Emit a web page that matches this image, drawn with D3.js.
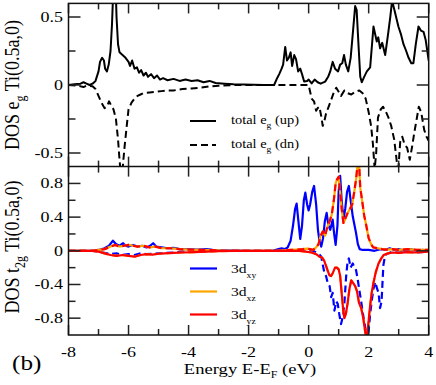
<!DOCTYPE html>
<html><head><meta charset="utf-8">
<script src="https://cdn.jsdelivr.net/npm/d3@7"></script>
<style>body{margin:0;background:#fff}svg{display:block}
svg text{font-family:"Liberation Serif","Times New Roman",Times,serif;}</style>
</head><body>
<script>
// ---------- data ----------
const xTicksMajor = [-8,-6,-4,-2,0,2,4];
const xTicksMinor = [-7,-5,-3,-1,1,3];
const yTopMajor = [-0.5,0,0.5];
const yTopMinor = [-0.25,0.25];
const yBotMajor = [-0.8,-0.4,0,0.4,0.8];
const yBotMinor = [-0.6,-0.2,0.2,0.6];

const egUp = [[-8,0],[-7.8,0.005],[-7.6,0.01],[-7.5,0.02],[-7.4,0.01],[-7.3,0],[-7.2,0.01],[-7.1,0.03],[-7.0,0.1],[-6.95,0.17],[-6.88,0.2],[-6.82,0.18],[-6.78,0.12],[-6.72,0.1],[-6.66,0.15],[-6.6,0.25],[-6.55,0.45],[-6.5,0.75],[-6.47,0.62],[-6.44,0.8],[-6.4,0.5],[-6.35,0.3],[-6.3,0.24],[-6.2,0.22],[-6.1,0.2],[-6.0,0.17],[-5.95,0.14],[-5.88,0.18],[-5.8,0.12],[-5.72,0.13],[-5.65,0.09],[-5.58,0.11],[-5.5,0.07],[-5.42,0.09],[-5.35,0.06],[-5.25,0.08],[-5.15,0.05],[-5.05,0.07],[-4.95,0.04],[-4.85,0.05],[-4.7,0.035],[-4.5,0.045],[-4.3,0.03],[-4.1,0.04],[-3.9,0.03],[-3.7,0.035],[-3.5,0.02],[-3.3,0.03],[-3.1,0.015],[-2.8,0.01],[-2.5,0.005],[-1.5,0],[-1.15,0],[-1.05,0.05],[-0.98,0.08],[-0.9,0.12],[-0.85,0.15],[-0.78,0.28],[-0.72,0.18],[-0.66,0.2],[-0.6,0.24],[-0.55,0.14],[-0.48,0.22],[-0.42,0.19],[-0.35,0.1],[-0.28,0.12],[-0.22,0.08],[-0.15,0.025],[-0.05,0.03],[0,0.04],[0.1,0.012],[0.2,0.04],[0.3,0.02],[0.4,0.01],[0.55,0.025],[0.65,0.06],[0.72,0.1],[0.8,0.17],[0.88,0.12],[0.98,0.1],[1.05,0.15],[1.12,0.16],[1.18,0.22],[1.24,0.15],[1.32,0.1],[1.4,0.2],[1.48,0.4],[1.55,0.58],[1.6,0.55],[1.66,0.3],[1.72,0.06],[1.77,0.02],[1.85,0.06],[1.94,0.1],[2.05,0.13],[2.16,0.43],[2.27,0.32],[2.32,0.35],[2.38,0.27],[2.45,0.31],[2.55,0.22],[2.65,0.38],[2.72,0.5],[2.78,0.62],[2.86,0.55],[2.99,0.43],[3.08,0.37],[3.16,0.3],[3.25,0.25],[3.33,0.2],[3.42,0.16],[3.49,0.16],[3.57,0.3],[3.66,0.43],[3.74,0.4],[3.83,0.39],[3.9,0.33],[4.0,0.18]];

const egDn = [[-8,0],[-7.7,-0.005],[-7.5,-0.015],[-7.4,-0.005],[-7.2,-0.01],[-7.1,-0.03],[-7.0,-0.08],[-6.9,-0.13],[-6.8,-0.17],[-6.72,-0.16],[-6.65,-0.12],[-6.58,-0.15],[-6.5,-0.18],[-6.42,-0.25],[-6.35,-0.4],[-6.3,-0.55],[-6.25,-0.68],[-6.2,-0.62],[-6.13,-0.45],[-6.05,-0.28],[-6.0,-0.18],[-5.9,-0.13],[-5.8,-0.1],[-5.7,-0.08],[-5.6,-0.07],[-5.5,-0.06],[-5.3,-0.055],[-5.1,-0.05],[-4.9,-0.045],[-4.7,-0.04],[-4.5,-0.04],[-4.2,-0.03],[-3.9,-0.025],[-3.6,-0.02],[-3.3,-0.01],[-3.0,-0.005],[-2.5,0],[0,0],[0.05,-0.05],[0.1,-0.1],[0.18,-0.12],[0.25,-0.19],[0.3,-0.17],[0.36,-0.16],[0.42,-0.23],[0.47,-0.3],[0.52,-0.27],[0.58,-0.21],[0.65,-0.17],[0.75,-0.11],[0.83,-0.06],[0.92,-0.02],[1.0,-0.05],[1.08,-0.08],[1.19,-0.04],[1.3,-0.06],[1.42,-0.07],[1.55,-0.05],[1.69,-0.04],[1.8,-0.06],[1.9,-0.1],[2.0,-0.2],[2.08,-0.3],[2.14,-0.43],[2.2,-0.62],[2.25,-0.5],[2.31,-0.24],[2.4,-0.18],[2.48,-0.16],[2.58,-0.2],[2.66,-0.24],[2.75,-0.3],[2.85,-0.4],[2.93,-0.55],[2.98,-0.65],[3.05,-0.42],[3.12,-0.38],[3.2,-0.44],[3.28,-0.46],[3.37,-0.55],[3.45,-0.45],[3.52,-0.35],[3.6,-0.25],[3.67,-0.16],[3.75,-0.2],[3.85,-0.33],[3.93,-0.38],[4.0,-0.41]];

const xyUp = [[-8,0],[-7.2,0],[-7.0,0.01],[-6.8,0.03],[-6.65,0.06],[-6.52,0.12],[-6.42,0.08],[-6.3,0.06],[-6.18,0.09],[-6.1,0.06],[-6.0,0.05],[-5.85,0.07],[-5.7,0.05],[-5.55,0.06],[-5.4,0.04],[-5.28,0.06],[-5.18,0.09],[-5.08,0.05],[-4.9,0.04],[-4.7,0.03],[-4.5,0.035],[-4.3,0.02],[-4.0,0.02],[-3.7,0.015],[-3.4,0.02],[-3.2,0.01],[-3.0,0.005],[-2.0,0],[-1.2,0],[-1.0,0.02],[-0.9,0.03],[-0.8,0.02],[-0.7,0.04],[-0.6,0.12],[-0.52,0.3],[-0.45,0.5],[-0.4,0.56],[-0.34,0.35],[-0.28,0.14],[-0.22,0.3],[-0.16,0.6],[-0.11,0.69],[-0.05,0.55],[0,0.48],[0.05,0.55],[0.12,0.7],[0.18,0.77],[0.25,0.55],[0.31,0.25],[0.36,0.12],[0.42,0.05],[0.48,0.15],[0.54,0.35],[0.6,0.45],[0.66,0.3],[0.72,0.25],[0.8,0.37],[0.85,0.2],[0.9,0.07],[0.96,0.3],[1.0,0.7],[1.05,0.89],[1.1,0.6],[1.16,0.37],[1.22,0.5],[1.28,0.7],[1.34,0.77],[1.4,0.6],[1.47,0.41],[1.53,0.3],[1.58,0.21],[1.64,0.08],[1.7,0.02],[1.8,0.01],[2.0,0.01],[2.2,0],[2.4,0.02],[2.55,0.01],[2.7,0.03],[2.85,0.01],[3.0,0.02],[3.2,0],[3.4,0.02],[3.6,0],[3.8,0.01],[4.0,0]];

const xzUp = [[-8,0],[-7.2,0],[-7.0,0.01],[-6.8,0.02],[-6.6,0.05],[-6.45,0.07],[-6.3,0.05],[-6.15,0.06],[-6.0,0.07],[-5.85,0.06],[-5.7,0.05],[-5.5,0.06],[-5.3,0.04],[-5.1,0.05],[-4.9,0.03],[-4.6,0.03],[-4.3,0.02],[-4.0,0.015],[-3.6,0.01],[-3.2,0.008],[-2.8,0],[-1.0,0],[-0.8,0.005],[-0.6,0.01],[-0.4,0.015],[-0.2,0.02],[-0.05,0.025],[0.05,0.02],[0.15,0.01],[0.25,0.04],[0.33,0.08],[0.4,0.18],[0.47,0.23],[0.55,0.18],[0.62,0.28],[0.7,0.35],[0.77,0.43],[0.84,0.6],[0.9,0.8],[0.95,0.85],[1.0,0.88],[1.05,0.7],[1.1,0.5],[1.16,0.33],[1.22,0.38],[1.3,0.45],[1.38,0.5],[1.45,0.55],[1.52,0.7],[1.58,0.85],[1.63,1.02],[1.68,1.05],[1.72,0.75],[1.78,0.6],[1.85,0.42],[1.92,0.3],[2.0,0.15],[2.08,0.08],[2.15,0.04],[2.3,0.03],[2.45,0.02],[2.6,0.015],[2.8,0.02],[3.0,0.01],[3.3,0.02],[3.6,0.01],[4.0,0.01]];
const yzUp = xzUp.map(d => d.slice());

const xyDn = [[-8,0],[-7.2,0],[-7.0,-0.01],[-6.8,-0.025],[-6.6,-0.04],[-6.4,-0.03],[-6.2,-0.05],[-6.0,-0.04],[-5.8,-0.05],[-5.6,-0.03],[-5.4,-0.04],[-5.2,-0.035],[-5.0,-0.03],[-4.8,-0.025],[-4.5,-0.02],[-4.2,-0.01],[-3.8,-0.01],[-3.4,-0.005],[-3.0,0],[0.15,0],[0.25,-0.02],[0.35,-0.04],[0.42,-0.07],[0.48,-0.18],[0.53,-0.27],[0.58,-0.3],[0.64,-0.39],[0.7,-0.42],[0.75,-0.55],[0.8,-0.5],[0.86,-0.71],[0.92,-0.6],[0.97,-0.63],[1.02,-0.75],[1.08,-0.87],[1.14,-0.78],[1.19,-0.63],[1.25,-0.3],[1.3,-0.12],[1.34,-0.09],[1.4,-0.2],[1.47,-0.15],[1.53,-0.2],[1.58,-0.23],[1.64,-0.35],[1.69,-0.47],[1.75,-0.6],[1.81,-0.75],[1.88,-0.9],[1.95,-1.05],[2.0,-0.95],[2.05,-0.75],[2.1,-0.6],[2.16,-0.45],[2.22,-0.37],[2.28,-0.45],[2.33,-0.5],[2.38,-0.68],[2.43,-0.6],[2.49,-0.17],[2.55,-0.05],[2.65,-0.03],[2.8,-0.01],[3.0,-0.02],[3.3,-0.01],[3.6,-0.02],[4.0,-0.01]];

const xzDn = [[-8,0],[-7.2,0],[-7.0,-0.01],[-6.8,-0.03],[-6.6,-0.05],[-6.4,-0.06],[-6.2,-0.05],[-6.0,-0.06],[-5.8,-0.07],[-5.6,-0.05],[-5.4,-0.04],[-5.2,-0.045],[-5.0,-0.035],[-4.8,-0.03],[-4.5,-0.025],[-4.2,-0.02],[-3.8,-0.015],[-3.4,-0.01],[-3.0,-0.005],[-2.5,0],[-0.3,0],[-0.1,-0.01],[0.1,-0.02],[0.25,-0.04],[0.36,-0.07],[0.45,-0.08],[0.52,-0.12],[0.58,-0.18],[0.64,-0.24],[0.69,-0.29],[0.75,-0.3],[0.81,-0.26],[0.88,-0.2],[0.94,-0.2],[1.0,-0.22],[1.05,-0.3],[1.1,-0.5],[1.15,-0.7],[1.19,-0.8],[1.24,-0.75],[1.3,-0.62],[1.36,-0.45],[1.42,-0.35],[1.48,-0.38],[1.55,-0.42],[1.61,-0.48],[1.68,-0.62],[1.75,-0.68],[1.82,-0.8],[1.88,-0.95],[1.93,-1.05],[1.98,-0.9],[2.04,-0.68],[2.1,-0.5],[2.16,-0.38],[2.24,-0.25],[2.33,-0.15],[2.42,-0.09],[2.5,-0.05],[2.65,-0.03],[2.8,-0.02],[3.0,-0.025],[3.3,-0.015],[3.6,-0.02],[4.0,-0.01]];
const yzDn = xzDn.map(d => d.slice());

// ---------- layout ----------
const W = 436, H = 385;
const L = 68.5, R = 428.7;
const T1 = 3.4, B1 = 166.6, T2 = 166.6, B2 = 335;
const SX = 1.2; // horizontal text stretch

const svg = d3.select("body").append("svg").attr("width", W).attr("height", H);
const x = d3.scaleLinear().domain([-8, 4]).range([L, R]);
const yTop = d3.scaleLinear().domain([-0.6, 0.6]).range([B1, T1]);
const yBot = d3.scaleLinear().domain([-1, 1]).range([B2, T2]);

const defs = svg.append("defs");
defs.append("clipPath").attr("id","c1").append("rect").attr("x",L).attr("y",T1).attr("width",R-L).attr("height",B1-T1);
defs.append("clipPath").attr("id","c2").append("rect").attr("x",L).attr("y",T2).attr("width",R-L).attr("height",B2-T2);

function drawLine(g, data, y, color, dash, w) {
  const line = d3.line().x(d => x(d[0])).y(d => y(d[1]));
  g.append("path").datum(data).attr("d", line)
    .attr("fill","none").attr("stroke",color).attr("stroke-width",w)
    .attr("stroke-linejoin","round")
    .attr("stroke-dasharray", dash || null);
}

const g1 = svg.append("g").attr("clip-path","url(#c1)");
drawLine(g1, egUp, yTop, "#000", null, 2);
drawLine(g1, egDn, yTop, "#000", "7,4", 2);

const g2 = svg.append("g").attr("clip-path","url(#c2)");
drawLine(g2, xyUp, yBot, "#0000ff", null, 2.2);
drawLine(g2, xyDn, yBot, "#0000ff", "7,4", 2.2);
drawLine(g2, xzUp, yBot, "#ffa500", null, 2.2);
drawLine(g2, xzDn, yBot, "#ffa500", "7,4", 2.2);
drawLine(g2, yzUp, yBot, "#ff0000", "7,4", 2.2);
drawLine(g2, yzDn, yBot, "#ff0000", null, 2.2);

// ---------- axes / ticks ----------
const ax = svg.append("g").attr("stroke","#222").attr("stroke-width",1.5);
function hTicks(yPos, dir, vals, len) {
  vals.forEach(v => ax.append("line").attr("x1",x(v)).attr("x2",x(v)).attr("y1",yPos).attr("y2",yPos+dir*len));
}
function vTicks(ys, vals, len) {
  vals.forEach(v => {
    ax.append("line").attr("x1",L).attr("x2",L+len).attr("y1",ys(v)).attr("y2",ys(v));
    ax.append("line").attr("x1",R).attr("x2",R-len).attr("y1",ys(v)).attr("y2",ys(v));
  });
}
[[T1,1],[B1,-1],[T2,1],[B2,-1]].forEach(([yp,dir]) => {
  hTicks(yp, dir, xTicksMajor, 10);
  hTicks(yp, dir, xTicksMinor, 6);
});
vTicks(yTop, yTopMajor, 12); vTicks(yTop, yTopMinor, 7);
vTicks(yBot, yBotMajor, 12); vTicks(yBot, yBotMinor, 7);
svg.append("rect").attr("x",L).attr("y",T1).attr("width",R-L).attr("height",B2-T1)
  .attr("fill","none").attr("stroke","#111").attr("stroke-width",1.5);
svg.append("line").attr("x1",L).attr("x2",R).attr("y1",B1).attr("y2",B1).attr("stroke","#111").attr("stroke-width",1.5);

// ---------- text ----------
function txt(px, py, size, anchor, rot) {
  const g = svg.append("g").attr("transform", `translate(${px},${py}) scale(${SX},1)` + (rot ? ` rotate(${rot})` : ""));
  return g.append("text").style("font-size", size + "px")
    .attr("text-anchor", anchor).attr("fill", "#000");
}
const fmt = v => (v === 0 ? "0" : String(v));
yTopMajor.forEach(v => txt(63, yTop(v)+5, 15, "end").text(fmt(v)));
yBotMajor.forEach(v => txt(63, yBot(v)+5, 15, "end").text(fmt(v)));
xTicksMajor.forEach(v => txt(x(v), 357, 15, "middle").text(fmt(v)));

// x label
{
  const t = txt(250, 374, 15.5, "middle");
  t.append("tspan").text("Energy E-E");
  t.append("tspan").style("font-size", "10px").attr("dy", 4).text("F");
  t.append("tspan").attr("dy", -4).text(" (eV)");
}
// y labels
{
  const t = txt(19, 85, 18, "middle", -90);
  t.append("tspan").text("DOS e");
  t.append("tspan").style("font-size", "12px").attr("dy", 5).text("g");
  t.append("tspan").attr("dy", -5).text(" Ti(0.5a,0)");
}
{
  const t = txt(19, 247, 18, "middle", -90);
  t.append("tspan").text("DOS t");
  t.append("tspan").style("font-size", "12px").attr("dy", 5).text("2g");
  t.append("tspan").attr("dy", -5).text(" Ti(0.5a,0)");
}
txt(12, 370, 21, "start").text("(b)");

// legends
const legTop = [["up", null, 121], ["dn", "7,4", 145]];
legTop.forEach(([lab, dash, ly]) => {
  svg.append("line").attr("x1",190).attr("x2",216).attr("y1",ly).attr("y2",ly)
    .attr("stroke","#000").attr("stroke-width",2).attr("stroke-dasharray", dash);
  const t = txt(231, ly+3, 12, "start");
  t.append("tspan").text("total e");
  t.append("tspan").style("font-size", "8px").attr("dy", 4).text("g");
  t.append("tspan").attr("dy", -4).text(" (" + lab + ")");
});
const legBot = [["xy","#0000ff",268.5],["xz","#ffa500",291.5],["yz","#ff0000",314.5]];
legBot.forEach(([lab, col, ly]) => {
  svg.append("line").attr("x1",190).attr("x2",217).attr("y1",ly).attr("y2",ly)
    .attr("stroke",col).attr("stroke-width",2.2);
  const t = txt(231, ly+4, 13, "start");
  t.append("tspan").text("3d");
  t.append("tspan").style("font-size", "8px").attr("dy", 5).text(lab);
});
</script>
</body></html>
